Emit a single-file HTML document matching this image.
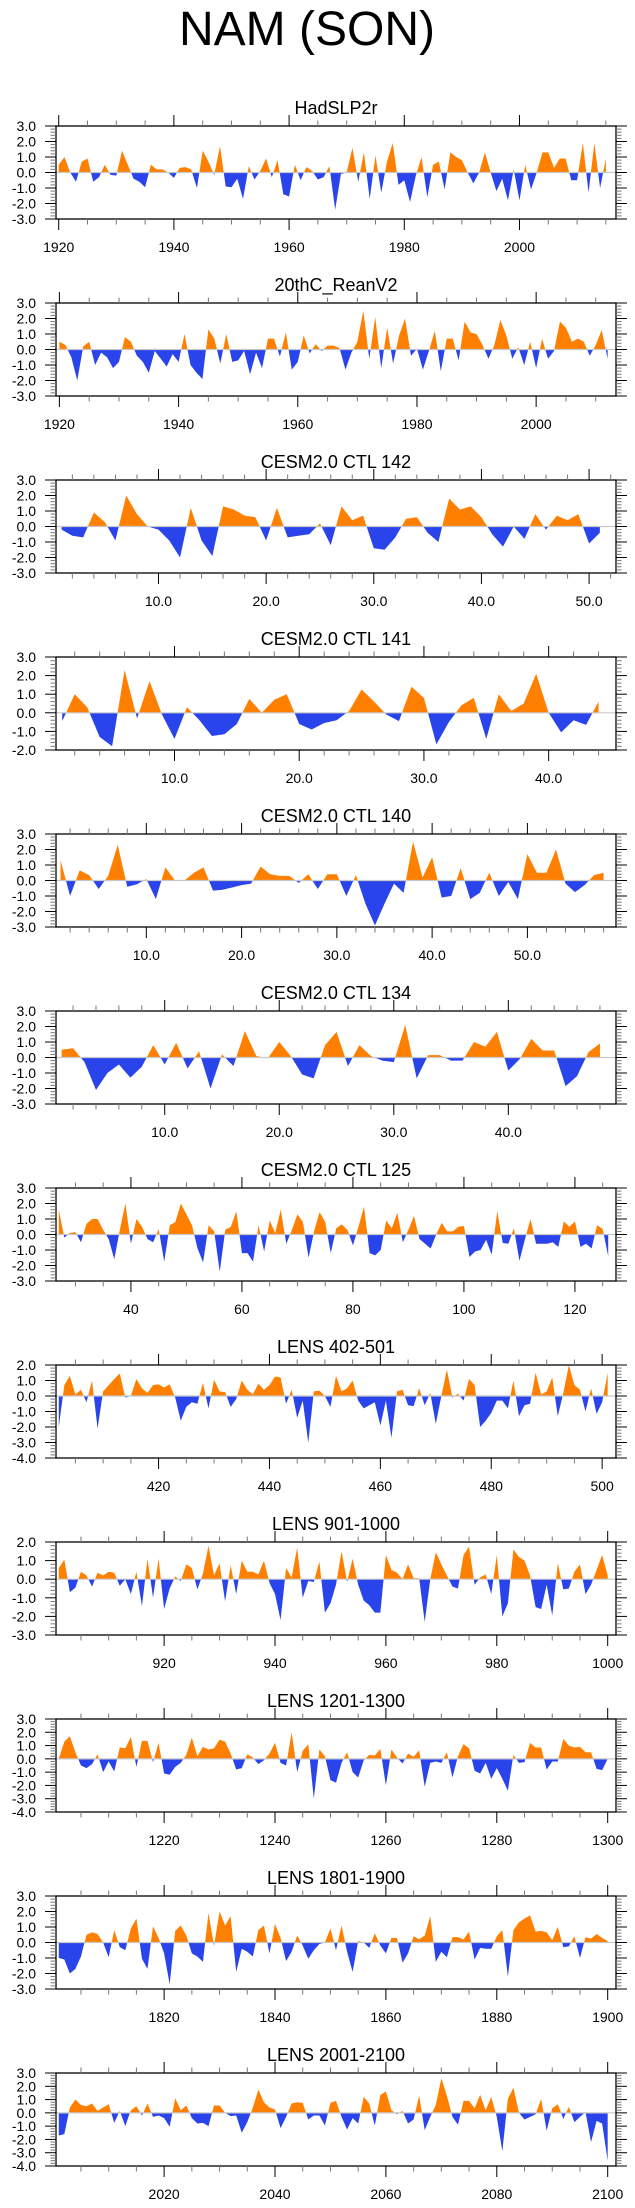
<!DOCTYPE html>
<html><head><meta charset="utf-8"><title>NAM (SON)</title>
<style>
html,body{margin:0;padding:0;background:#fff;}
svg{display:block;font-family:"Liberation Sans",Arial,sans-serif;}
</style></head>
<body>
<svg id="chart" width="635" height="2208" viewBox="0 0 635 2208" xmlns="http://www.w3.org/2000/svg">
<rect x="0" y="0" width="635" height="2208" fill="#fff"/>
<text x="307" y="45" font-size="48" text-anchor="middle" fill="#000">NAM (SON)</text>
</svg>
<script>
const titles = ["HadSLP2r","20thC_ReanV2","CESM2.0 CTL 142","CESM2.0 CTL 141","CESM2.0 CTL 140","CESM2.0 CTL 134","CESM2.0 CTL 125","LENS 402-501","LENS 901-1000","LENS 1201-1300","LENS 1801-1900","LENS 2001-2100"];
const startX = [1920,1920,1,1,1,1,27,402,901,1201,1801,2001];
const yMaxs = [3,3,3,3,3,3,3,2,2,3,3,3];
const yMins = [-3,-3,-3,-2,-3,-3,-3,-4,-3,-4,-3,-4];
const xMins = [1919.53,1919.43,0.48,0.5,0.52,0.51,26.5,401.5,900.5,1200.5,1800.5,2000.5];
const xMaxs = [2016.76,2013.4,52.5,45.4,59.3,49.4,127.4,502.5,1001.5,1301.5,1901.5,2101.5];
const majorStep = [20,20,10,10,10,10,20,20,20,20,20,20];
const minorStep = [5,5,2,2,2,2,5,5,5,5,5,5];
const labelDecimals = [0,0,1,1,1,1,0,0,0,0,0,0];

const vHad = [0.5,1.0,0.0,-0.6,0.7,0.9,-0.6,-0.3,0.5,-0.15,
-0.2,1.4,0.5,-0.4,-0.6,-0.95,0.5,0.2,0.2,0.0,
-0.35,0.3,0.35,0.2,-1.0,1.4,0.7,-0.15,1.7,-0.9,
-0.95,-0.4,-1.7,0.4,-0.45,0.1,0.9,-0.3,0.8,-1.4,
-1.55,0.5,-0.5,0.35,0.1,-0.45,-0.3,0.4,-2.4,-0.1,
0.0,1.6,-0.6,1.3,-1.7,1.1,-1.3,0.7,1.9,-0.8,
-0.5,-1.9,-0.2,1.0,-1.6,0.5,0.7,-1.1,1.3,1.0,
0.8,0.0,-0.7,0.0,1.3,0.0,-1.2,-0.4,-1.8,0.2,
-1.8,0.5,-1.1,0.0,1.3,1.3,0.3,0.9,0.9,-0.5,
-0.5,1.9,-1.3,1.9,-1.0,0.9];
const v20c = [0.5,0.3,-0.5,-2.0,0.2,0.5,-1.0,-0.2,-0.5,-1.2,
-0.8,0.8,0.5,-0.4,-0.8,-1.5,-0.1,-0.6,-1.1,-0.3,
-0.8,1.0,-1.0,-1.5,-1.9,1.3,0.7,-0.9,1.0,-0.8,
-0.7,-0.1,-1.6,-0.2,-1.2,0.7,0.7,-0.45,1.1,-1.3,
-0.8,0.9,-0.25,0.35,-0.1,0.25,0.25,0.1,-1.3,-0.2,
0.5,2.5,-0.6,2.1,-1.2,1.4,-0.9,0.9,2.0,-0.4,
0.05,-1.3,-0.1,1.2,-1.4,0.7,0.7,-0.7,1.8,1.1,
1.0,0.3,-0.6,0.3,1.9,0.9,-0.6,0.15,-1.0,0.5,
-1.2,0.7,-0.6,-0.1,1.8,1.4,0.5,0.7,0.5,-0.4,
0.3,1.25,-0.6];
const v142 = [-0.2,-0.6,-0.7,0.9,0.3,-0.9,2.0,0.8,0.0,-0.2,
-0.9,-2.0,1.2,-0.9,-1.9,1.3,1.1,0.7,0.6,-0.9,
1.2,-0.7,-0.6,-0.5,0.2,-1.2,1.3,0.4,0.7,-1.4,
-1.5,-0.7,0.5,0.6,-0.4,-1.0,1.8,1.1,1.3,0.6,
-0.5,-1.3,0.0,-0.8,0.8,-0.2,0.7,0.4,0.8,-1.1,-0.4];
const v141 = [-0.45,1.0,0.3,-1.3,-1.8,2.3,-0.3,1.7,-0.1,-1.4,
0.3,-0.4,-1.25,-1.15,-0.6,0.75,0.0,0.7,1.0,-0.6,
-0.9,-0.55,-0.4,0.1,1.25,0.6,-0.1,-0.45,1.4,0.8,
-1.7,-0.5,0.4,0.8,-1.4,1.0,0.1,0.5,2.1,0.0,
-1.05,-0.4,-0.65,0.6];
const v140 = [1.3,-1.0,0.65,0.35,-0.55,0.3,2.3,-0.4,-0.25,0.1,
-1.2,0.85,0.0,0.0,0.5,0.85,-0.65,-0.6,-0.45,-0.3,
-0.2,0.9,0.4,0.3,0.3,-0.15,0.4,-0.55,0.4,0.4,
-1.0,0.35,-1.5,-2.9,-1.5,-0.2,-0.8,2.5,0.2,1.5,
-1.1,-1.0,0.8,-1.2,-0.8,0.5,-1.0,-0.1,-1.2,1.7,
0.5,0.5,2.0,-0.2,-0.75,-0.3,0.35,0.5];
const v134 = [0.5,0.6,-0.3,-2.1,-1.0,-0.45,-1.3,-0.6,0.8,-0.45,
0.95,-0.7,0.4,-2.0,0.2,-0.55,1.7,0.1,-0.05,1.0,
0.1,-1.1,-1.35,0.8,1.65,-0.55,0.8,0.1,-0.2,-0.3,
2.1,-1.35,0.15,0.15,-0.2,-0.2,1.0,0.7,1.65,-0.85,
-0.1,1.2,0.45,0.45,-1.85,-1.2,0.35,0.9];
const v125 = [1.6,-0.2,0.1,0.15,-0.5,0.7,1.0,1.0,0.3,-0.3,
-1.6,0.3,2.0,-0.6,1.0,0.5,-0.3,-0.5,0.35,-1.75,
0.6,0.8,2.0,1.3,0.6,-0.9,-1.8,0.6,0.2,-2.4,
0.3,0.5,1.5,-1.2,-1.2,-1.75,0.6,-1.1,0.9,0.1,
1.6,-0.6,0.3,1.3,0.8,-1.5,0.2,1.45,0.8,-1.2,
0.4,0.65,0.3,-0.7,0.5,1.8,-1.2,-1.35,-1.0,0.9,
0.4,1.4,-0.5,0.3,1.2,-0.3,-0.6,-0.9,0.0,0.75,
0.2,0.2,0.5,0.55,-1.45,-1.1,-1.0,-0.35,-1.3,1.5,
-0.55,-0.6,0.4,-1.7,-0.3,1.0,-0.6,-0.6,-0.6,-0.5,
-0.8,0.85,0.5,0.85,-0.8,-0.6,-0.9,0.6,0.35,-1.4];
const v402 = [-2.0,0.7,1.3,0.1,0.4,-0.4,1.0,-2.1,0.3,0.7,
1.1,1.45,-0.1,0.0,1.1,0.5,0.2,0.7,0.75,0.55,
0.75,-0.1,-1.6,-0.7,-0.4,-0.5,0.85,-0.8,1.05,0.3,
0.25,-0.7,-0.2,1.0,0.4,0.1,0.8,0.4,0.7,1.25,
1.2,-0.5,0.4,-1.4,-0.3,-3.0,0.3,0.35,0.0,-0.7,
1.3,0.3,0.5,1.0,-0.3,-0.8,-0.6,-0.4,-1.9,-0.3,
-2.7,0.3,0.4,-0.6,-0.65,0.5,-0.6,0.2,-1.8,0.0,
1.7,-0.1,0.15,-0.3,1.1,0.7,-2.0,-1.6,-1.1,-0.3,
-0.3,-0.8,1.0,-1.3,-0.6,-0.5,1.5,0.1,0.3,1.2,
-1.3,0.2,2.0,0.7,0.4,-1.0,0.5,-1.15,-0.4,1.5];
const v901 = [0.6,1.05,-0.7,-0.45,0.4,0.2,-0.4,0.35,0.2,0.4,
0.35,-0.35,0.0,-0.8,0.4,-1.45,1.1,-1.0,1.1,-1.6,
-0.5,0.15,-0.1,0.8,0.6,-0.55,0.3,1.8,0.2,0.85,
-1.2,0.75,-0.8,1.0,0.4,0.4,0.25,1.0,-0.2,-0.8,
-2.2,0.6,0.1,1.7,-1.0,-0.1,-0.15,0.95,-1.8,-1.3,
-0.3,1.5,-0.15,1.1,-0.3,-1.15,-1.4,-1.8,-1.8,1.3,
0.5,0.35,0.0,0.8,0.05,0.05,-2.3,0.0,1.45,0.8,
0.2,-0.4,-0.5,1.3,1.75,-0.3,0.1,0.25,-0.8,1.3,
-2.0,-1.3,1.6,1.2,1.0,0.2,-1.5,-1.6,-0.3,-1.95,
0.85,-0.55,-0.5,0.4,0.8,-0.8,-0.3,0.5,1.3,0.2];
const v1201 = [0.0,1.3,1.7,0.5,-0.5,-0.7,-0.4,0.35,-1.0,-0.2,
-0.95,0.85,0.8,1.65,-0.6,1.35,1.35,-0.25,1.2,-1.1,
-1.2,-0.6,-0.3,0.3,1.6,0.2,0.9,0.7,0.8,1.45,
1.3,0.4,-0.8,-0.7,0.35,0.1,-0.4,-0.1,0.4,1.2,
-0.3,-0.5,2.0,-1.0,0.6,1.1,-3.0,0.7,0.2,-1.6,
-1.8,-0.3,0.5,-1.0,-1.4,-0.1,0.3,0.25,0.75,-2.0,
0.7,0.1,-0.35,0.4,0.15,0.65,-2.1,-0.3,-0.2,-0.3,
0.5,-1.4,0.2,1.1,0.8,-0.9,-1.1,-0.3,-1.5,-0.7,
-1.5,-2.4,0.3,-0.3,-0.25,1.2,0.85,0.85,-0.8,-0.2,
-0.2,1.5,1.0,0.85,0.9,0.5,0.5,-0.75,-0.85,0.0];
const v1801 = [-1.0,-1.1,-2.0,-1.7,-0.9,0.5,0.65,0.55,0.0,-0.95,
0.8,-0.3,-0.5,0.9,1.55,-1.05,-1.7,1.05,0.3,-0.7,
-2.7,0.75,1.1,0.45,-0.7,-0.9,-1.25,1.9,-0.2,2.0,
1.1,1.7,-1.9,-0.4,-0.6,-0.9,0.8,1.1,-0.7,1.2,
0.3,-1.2,-0.6,0.45,-0.2,-1.05,-0.5,-0.1,0.0,0.9,
-0.5,1.1,-0.6,-1.9,0.1,0.0,-0.35,0.6,-0.2,-0.7,
0.3,0.3,-1.3,-0.7,0.4,0.2,0.45,1.7,-1.25,-0.6,
-0.95,0.35,0.35,0.2,0.7,-1.1,-0.35,-0.4,-0.4,0.4,
0.8,-2.2,0.8,1.3,1.55,1.75,0.7,0.75,0.65,0.15,
1.0,-0.3,-0.25,0.4,-1.0,0.35,0.25,0.55,0.3,0.1];
const v2001 = [-1.7,-1.6,0.4,1.0,0.6,0.5,0.7,0.15,0.4,0.65,
-0.75,0.15,-1.0,0.2,0.5,-0.2,0.7,-0.3,-0.2,-0.4,
-1.05,1.1,0.2,0.55,-0.4,-0.8,-0.75,-1.0,0.55,0.55,
0.0,-0.25,-0.2,-1.5,-0.7,0.4,1.75,0.8,0.4,0.25,
-1.15,-0.3,0.7,0.8,0.75,-0.5,-0.2,-0.2,-0.95,0.75,
0.9,-0.3,-1.25,-0.4,-0.8,1.2,0.7,-0.95,1.35,1.6,
0.2,-0.1,0.15,-0.8,-0.5,1.3,-1.3,-0.3,0.6,2.6,
1.3,-0.3,-0.9,0.9,0.9,0.35,1.35,0.2,1.2,-0.3,
-2.9,1.05,1.9,0.0,-0.5,-0.3,-0.1,1.05,-1.35,0.35,
0.65,-0.45,0.45,-0.7,-0.3,0.05,-2.2,-0.6,-0.8,-3.6];
const seriesValues = [vHad,v20c,v142,v141,v140,v134,v125,v402,v901,v1201,v1801,v2001];

const NS = "http://www.w3.org/2000/svg";
const svg = document.getElementById("chart");
const BOX_L = 56, BOX_R = 616, BOX_H = 93, TOP0 = 126, PITCH = 177;
const ORANGE = "#ff8000", BLUE = "#2a44ec";

function mk(tag, attrs, parent) {
  const e = document.createElementNS(NS, tag);
  for (const k in attrs) e.setAttribute(k, attrs[k]);
  parent.appendChild(e);
  return e;
}

for (let p = 0; p < titles.length; p++) {
  const top = TOP0 + p * PITCH, bot = top + BOX_H;
  const xmin = xMins[p], xmax = xMaxs[p], ymin = yMins[p], ymax = yMaxs[p];
  const X = v => BOX_L + (v - xmin) / (xmax - xmin) * (BOX_R - BOX_L);
  const Y = v => top + (ymax - v) / (ymax - ymin) * BOX_H;
  const g = mk("g", {}, svg);
  
  

  const t = mk("text", {x: 336, y: top - 12, "font-size": 18, "text-anchor": "middle", fill: "#000"}, g);
  t.textContent = titles[p];
  
  

  // clip paths
  const defs = mk("defs", {}, g);
  const cu = mk("clipPath", {id: "cu" + p}, defs);
  mk("rect", {x: BOX_L, y: top, width: BOX_R - BOX_L, height: Y(0) - top}, cu);
  const cd = mk("clipPath", {id: "cd" + p}, defs);
  mk("rect", {x: BOX_L, y: Y(0), width: BOX_R - BOX_L, height: bot - Y(0)}, cd);

  const vals = seriesValues[p];
  let d = "M" + X(startX[p]).toFixed(2) + "," + Y(0).toFixed(2);
  for (let i = 0; i < vals.length; i++) d += " L" + X(startX[p] + i).toFixed(2) + "," + Y(vals[i]).toFixed(2);
  d += " L" + X(startX[p] + vals.length - 1).toFixed(2) + "," + Y(0).toFixed(2) + " Z";
  const up = mk("path", {d: d, fill: ORANGE, "clip-path": "url(#cu" + p + ")"}, g);
  
  
  const dn = mk("path", {d: d, fill: BLUE, "clip-path": "url(#cd" + p + ")"}, g);
  
  
  const zl = mk("line", {x1: BOX_L, x2: BOX_R, y1: Y(0), y2: Y(0), stroke: "#c8c8c8", "stroke-width": 1.2}, g);
  
  

  // box
  const box = mk("rect", {x: BOX_L, y: top, width: BOX_R - BOX_L, height: BOX_H, fill: "none", stroke: "#000", "stroke-width": 1.3}, g);
  
  

  // y ticks
  const yt = mk("g", {stroke: "#000", "stroke-width": 1}, g);
  
  
  for (let k = Math.round(ymin * 5); k <= Math.round(ymax * 5); k++) {
    const v = k / 5, yy = Y(v), major = (k % 5 === 0), len = major ? 11 : 5.5;
    mk("line", {x1: BOX_L - len, x2: BOX_L, y1: yy, y2: yy, stroke: major ? "#000" : "#777"}, yt);
    mk("line", {x1: BOX_R, x2: BOX_R + len, y1: yy, y2: yy, stroke: major ? "#000" : "#777"}, yt);
    if (major) {
      const lb = mk("text", {x: 36, y: yy + 5, "font-size": 14, "text-anchor": "end", fill: "#000", stroke: "none"}, g);
      lb.textContent = v.toFixed(1);
      
      
    }
  }
  // x ticks
  const xt = mk("g", {stroke: "#000", "stroke-width": 1}, g);
  
  
  const ms = minorStep[p], MS = majorStep[p];
  for (let v = Math.ceil(xmin / ms) * ms; v <= xmax; v += ms) {
    const xx = X(v), major = (Math.abs(v % MS) < 1e-9), len = major ? 11 : 5.5;
    mk("line", {x1: xx, x2: xx, y1: top - len, y2: top, stroke: major ? "#000" : "#777"}, xt);
    mk("line", {x1: xx, x2: xx, y1: bot, y2: bot + len, stroke: major ? "#000" : "#777"}, xt);
    if (major) {
      const lb = mk("text", {x: xx, y: bot + 33, "font-size": 14, "text-anchor": "middle", fill: "#000", stroke: "none"}, g);
      lb.textContent = v.toFixed(labelDecimals[p]);
      
      
    }
  }
}
</script>
</body></html>
